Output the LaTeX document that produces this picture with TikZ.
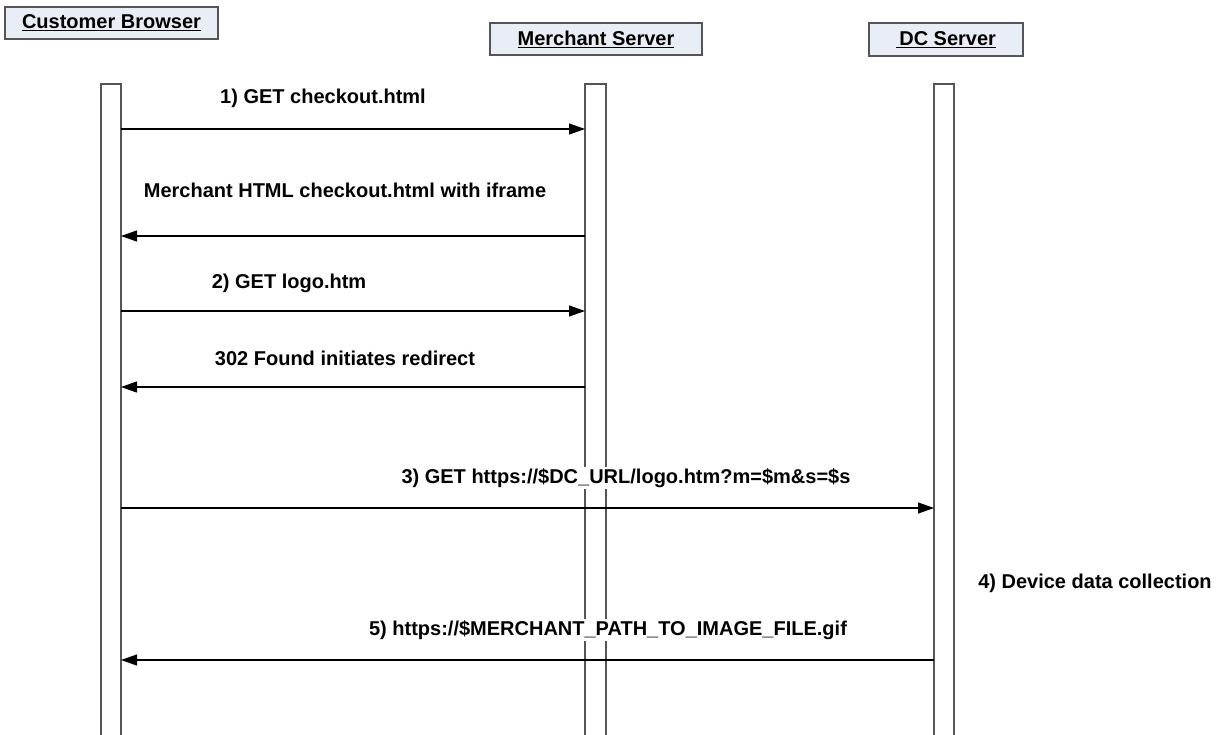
\documentclass[tikz,border=0pt]{standalone}
\usepackage{fontspec}
\setmainfont{Liberation Sans}
\usetikzlibrary{arrows.meta}
\definecolor{hdrfill}{HTML}{E9EDF6}
\definecolor{lineclr}{HTML}{555555}
\begin{document}
\begin{tikzpicture}[x=1pt,y=-1pt,
  hdr/.style={draw=lineclr,line width=1.3pt,fill=hdrfill,inner sep=0pt,font=\fontsize{20}{22}\selectfont\bfseries},
  life/.style={draw=lineclr,line width=1.4pt,fill=white},
  msg/.style={line width=1.2pt,-{Triangle[length=16pt,width=11pt]}},
  lbl/.style={font=\fontsize{20}{22}\selectfont\bfseries,fill=white,inner sep=1pt}]
\useasboundingbox (0,0) rectangle (1225,734);
% headers
\node[hdr,minimum width=213pt,minimum height=32pt] (cb) at (111.5,23) {\underline{Customer Browser}};
\node[hdr,minimum width=212pt,minimum height=32pt] (ms) at (596,39) {\underline{Merchant Server}};
\node[hdr,minimum width=154pt,minimum height=33pt] (dc) at (946,39.5) {\underline{\,DC Server}};
% lifelines
\path[life] (101,84) rectangle (121,740);
\path[life] (585,84) rectangle (606,740);
\path[life] (934,84) rectangle (954,740);
\coordinate (cbL) at (121,0);
\coordinate (msL) at (585,0);
\coordinate (dcL) at (934,0);
% messages
\draw[msg] (cbL |- 0,129) -- (msL |- 0,129);
\draw[msg] (msL |- 0,236) -- (cbL |- 0,236);
\draw[msg] (cbL |- 0,311) -- (msL |- 0,311);
\draw[msg] (msL |- 0,387) -- (cbL |- 0,387);
\draw[msg] (cbL |- 0,508) -- (dcL |- 0,508);
\draw[msg] (dcL |- 0,660) -- (cbL |- 0,660);
% labels
\node[lbl] (l1) at (323,98) {1) GET checkout.html};
\node[lbl] (l2) at (345,190) {Merchant HTML checkout.html with iframe};
\node[lbl] (l3) at (289,283) {2) GET logo.htm};
\node[lbl] (l4) at (345,358) {302 Found initiates redirect};
\node[lbl] (l5) at (626,478) {3) GET https://\$DC\_URL/logo.htm?m=\$m\&s=\$s};
\node[lbl] (l6) at (1095,583) {4) Device data collection};
\node[lbl] (l7) at (608,630) {5) https://\$MERCHANT\_PATH\_TO\_IMAGE\_FILE.gif};
\end{tikzpicture}
\end{document}
